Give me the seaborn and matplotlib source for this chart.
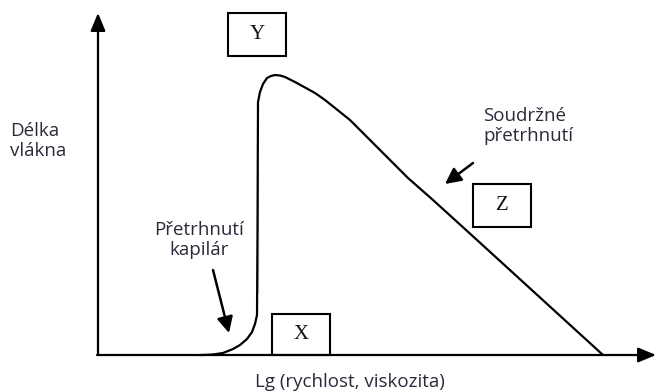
import matplotlib
matplotlib.use("Agg")
import matplotlib.pyplot as plt
import seaborn as sns
import pandas as pd

# ---- data (pixel-read positions converted to data units: origin at axis crossing) ----
curve_x = [102, 105, 115, 125, 135, 142, 149, 154, 157, 159, 159.5, 159.5, 159.5, 159.5, 160,
           162, 165, 169, 173, 177, 182, 187, 197, 207, 217, 227, 237, 252, 272, 310,
           335, 379, 505]
curve_y = [0, 0, 0.5, 2, 6, 10, 16, 23, 31, 40, 50, 75, 155, 215, 253,
           263, 271, 277, 279, 280, 279.5, 278, 273, 267.5, 262, 255, 247, 235, 215, 177,
           155, 115, 0]

axis_x_end = 558
axis_y_end = 342

box_labels = ["Y", "Z", "X"]
box_centers_x = [159, 404, 203]
box_centers_y = [320.5, 150, 20.5]
box_widths = [58, 58, 58]
box_heights = [43, 43, 41]

y_axis_label = "Délka\nvlákna"
x_axis_label = "Lg (rychlost, viskozita)"
note_cohesive = "Soudržné\npřetrhnutí"
note_capillary = "Přetrhnutí\nkapilár"

sns.set_theme(style="white")
plt.rcParams["font.family"] = ["Open Sans", "DejaVu Sans"]

fig = plt.figure(figsize=(6.57, 3.92), dpi=100)
ax = fig.add_axes([0, 0, 1, 1])
ax.set_xlim(-98, 559)
ax.set_ylim(-37, 355)
ax.axis("off")

df = pd.DataFrame({"x": curve_x, "y": curve_y})
sns.lineplot(data=df, x="x", y="y", sort=False, ax=ax, color="black", lw=1.6,
             solid_joinstyle="round", solid_capstyle="round")
ax.set_xlabel("")
ax.set_ylabel("")

ax_arrow = dict(arrowstyle="-|>,head_length=0.6,head_width=0.25", color="black",
                lw=1.6, mutation_scale=18, shrinkA=0, shrinkB=0)
ax.annotate("", xy=(0, axis_y_end), xytext=(0, 0), arrowprops=ax_arrow)
ax.annotate("", xy=(axis_x_end, 0), xytext=(-1, 0), arrowprops=ax_arrow)

# boxes
for lab, cx, cy, w, h in zip(box_labels, box_centers_x, box_centers_y, box_widths, box_heights):
    ax.add_patch(plt.Rectangle((cx - w / 2, cy - h / 2), w, h, fill=False,
                               edgecolor="black", lw=1.5))
    ax.text(cx, cy, lab, ha="center", va="center", fontsize=15,
            family="Liberation Serif", color="#111111")

txt_color = "#2a2a3a"
fs = 13.5
ax.text(-88, 214, y_axis_label, ha="left", va="center", fontsize=fs,
        color=txt_color, linespacing=1.2)
ax.text(252, -27, x_axis_label, ha="center", va="center", fontsize=fs, color=txt_color)
ax.text(385, 229, note_cohesive, ha="left", va="center", fontsize=fs,
        color=txt_color, linespacing=1.2)
ax.text(101, 115, note_capillary, ha="center", va="center", fontsize=fs,
        color=txt_color, linespacing=1.2)

note_arrow = dict(arrowstyle="-|>,head_length=0.6,head_width=0.3", color="black",
                  lw=1.8, mutation_scale=16, shrinkA=0, shrinkB=0)
ax.annotate("", xy=(347, 171), xytext=(375, 192), arrowprops=note_arrow)
ax.annotate("", xy=(131, 22), xytext=(115, 85), arrowprops=note_arrow)

fig.savefig("out.png", dpi=100)
